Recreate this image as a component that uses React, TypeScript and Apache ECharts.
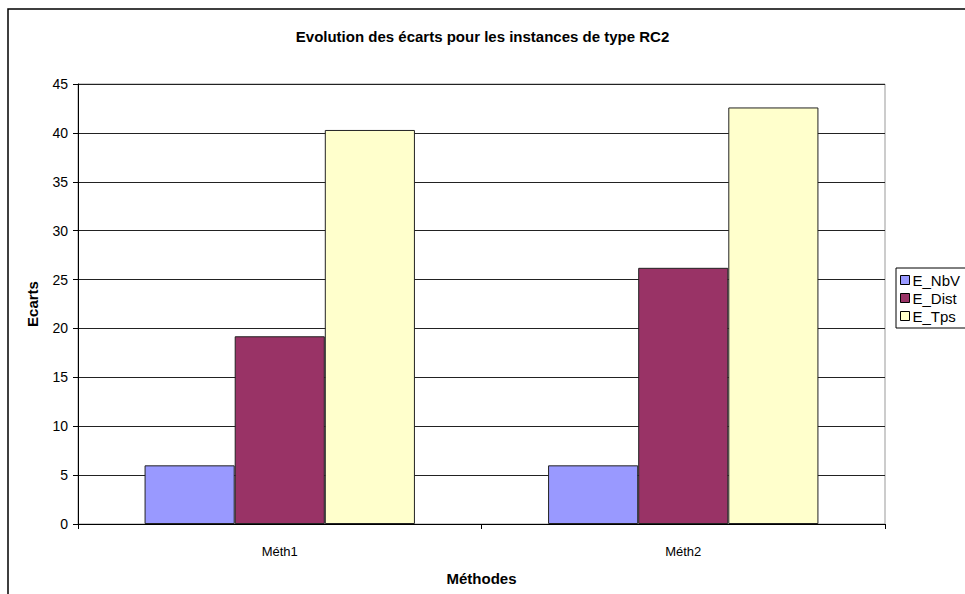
import React, { useEffect, useRef } from "react";
import * as echarts from "echarts";

const categories = ["Méth1", "Méth2"];
const seriesNames = ["E_NbV", "E_Dist", "E_Tps"];
const eNbV = [6, 6];
const eDist = [19.2, 26.2];
const eTps = [40.3, 42.6];
const yTicks = { min: 0, max: 45, interval: 5 };
const colors = ["#9999FF", "#993366", "#FFFFCC"];

const FONT = "'Liberation Sans', Arial, sans-serif";

export default function App() {
  const ref = useRef<HTMLDivElement>(null);
  useEffect(() => {
    if (!ref.current) return;
    const chart = echarts.init(ref.current, undefined, { renderer: "svg" });
    const values = [eNbV, eDist, eTps];
    chart.setOption({
      animation: false,
      backgroundColor: "#ffffff",
      textStyle: { fontFamily: FONT },
      title: {
        text: "Evolution des écarts pour les instances de type RC2",
        left: "center",
        top: 24,
        textStyle: { fontSize: 15, fontWeight: "bold", color: "#000", fontFamily: FONT },
      },
      graphic: [
        {
          type: "rect",
          shape: { x: 8, y: 9, width: 1100, height: 800 },
          style: { fill: "none", stroke: "#000", lineWidth: 1.5 },
          silent: true,
          z: 100,
        },
      ],
      grid: {
        left: 78,
        top: 84,
        right: 80,
        bottom: 70,
        show: true,
        borderColor: "#999",
        borderWidth: 1,
        backgroundColor: "#fff",
      },
      legend: {
        data: seriesNames,
        orient: "vertical",
        left: 896,
        top: 268,
        padding: [4, 30, 4, 4],
        borderColor: "#000",
        borderWidth: 1,
        backgroundColor: "#fff",
        itemWidth: 9,
        itemHeight: 9,
        itemGap: 2,
        icon: "rect",
        itemStyle: { borderColor: "#000", borderWidth: 1 },
        textStyle: { fontSize: 15, color: "#000", fontFamily: FONT, lineHeight: 16, padding: [0, 0, 0, -2] },
      },
      xAxis: {
        type: "category",
        data: categories,
        name: "Méthodes",
        nameLocation: "middle",
        nameGap: 47,
        nameTextStyle: { fontSize: 15, fontWeight: "bold", color: "#000", fontFamily: FONT },
        axisLine: { lineStyle: { color: "#000", width: 1 } },
        axisTick: { show: true, length: 5, lineStyle: { color: "#000" } },
        axisLabel: { fontSize: 13, color: "#000", margin: 21, fontFamily: FONT },
      },
      yAxis: {
        type: "value",
        min: yTicks.min,
        max: yTicks.max,
        interval: yTicks.interval,
        name: "Ecarts",
        nameLocation: "middle",
        nameGap: 38,
        nameTextStyle: { fontSize: 15, fontWeight: "bold", color: "#000", fontFamily: FONT },
        axisLine: { show: true, lineStyle: { color: "#000", width: 1 } },
        axisTick: { show: true, length: 5, lineStyle: { color: "#000" } },
        axisLabel: { fontSize: 14, color: "#000", margin: 10, fontFamily: FONT },
        splitLine: { show: true, lineStyle: { color: "#222", width: 1 } },
      },
      series: seriesNames.map((name, i) => ({
        name,
        type: "bar",
        data: values[i],
        barGap: "0%",
        barCategoryGap: "33%",
        itemStyle: { color: colors[i], borderColor: "#222", borderWidth: 1 },
      })),
    });
    return () => chart.dispose();
  }, []);
  return (
    <div
      ref={ref}
      style={{ position: "fixed", left: 0, top: 0, width: 965, height: 594, background: "#fff" }}
    />
  );
}
